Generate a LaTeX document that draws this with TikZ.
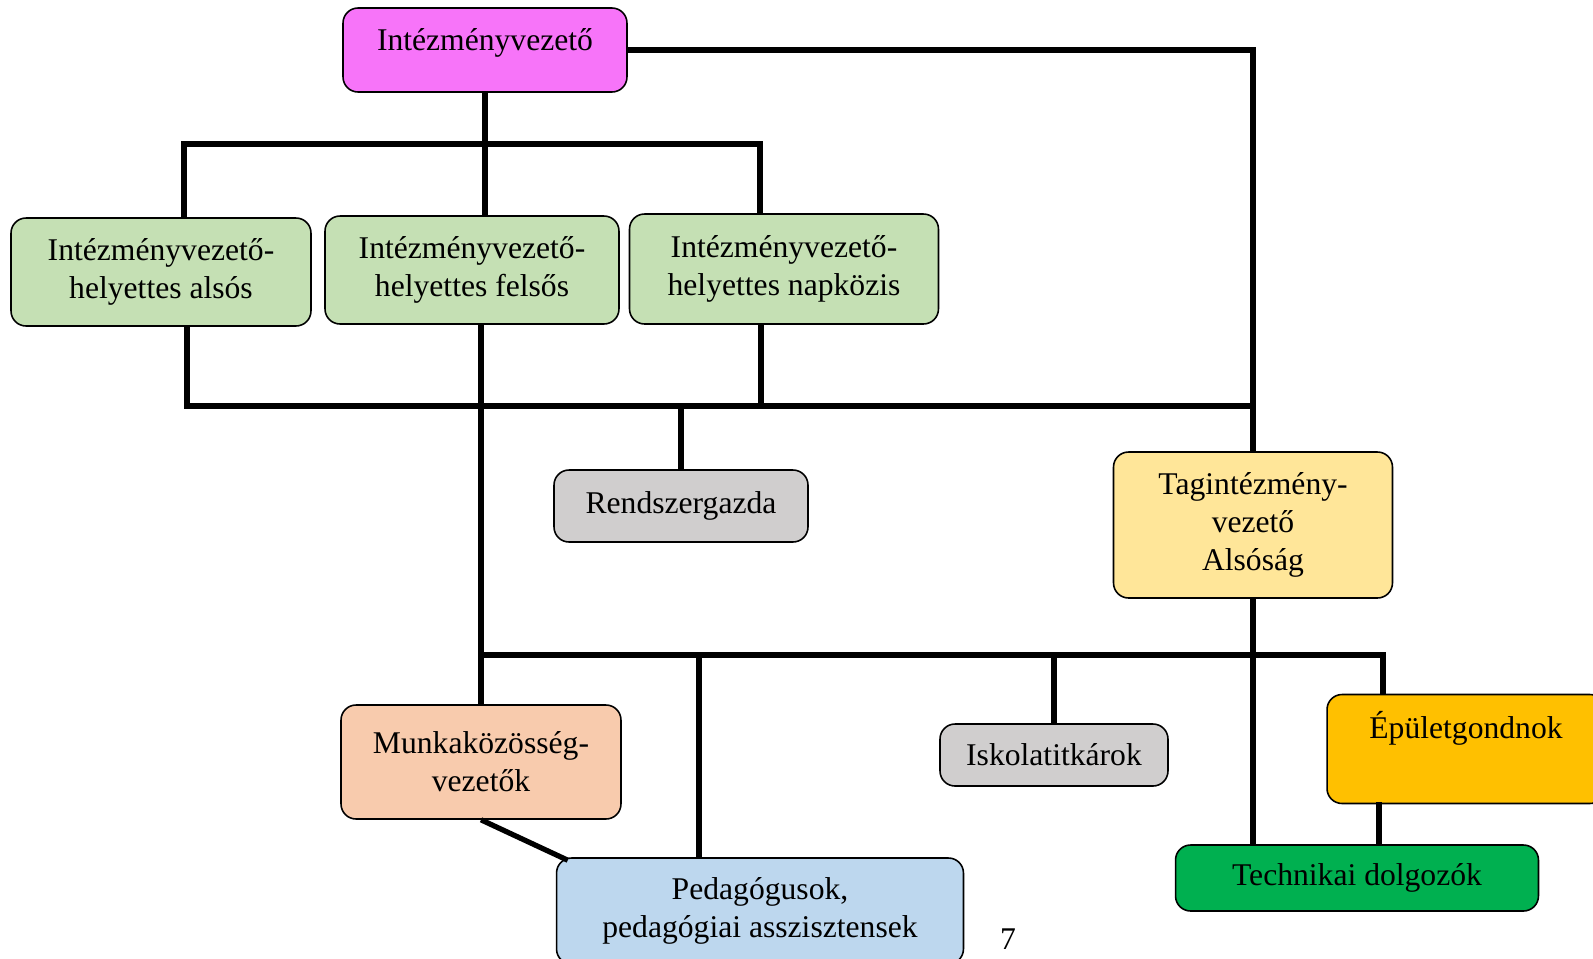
\documentclass[tikz,border=0pt]{standalone}
\usepackage{fontspec}
\setmainfont{Liberation Serif}
\usepackage{tikz}
\usetikzlibrary{calc, positioning}
\definecolor{vezcol}{HTML}{F774F9}
\definecolor{helycol}{HTML}{C5E0B4}
\definecolor{szurke}{HTML}{D0CECE}
\definecolor{tagcol}{HTML}{FFE699}
\definecolor{mkcol}{HTML}{F8CBAD}
\definecolor{pedcol}{HTML}{BDD7EE}
\definecolor{epcol}{HTML}{FFC000}
\definecolor{techcol}{HTML}{00B050}
\tikzstyle{box}=[draw, line width=0.9pt, rounded corners=0.3cm, align=center, inner sep=0pt, font=\fontsize{18}{21.5}\selectfont]
\tikzstyle{conn}=[line width=3pt]

\begin{document}
\begin{tikzpicture}[x=0.02cm, y=-0.02cm]
			\useasboundingbox (0,0) rectangle (1593,958);
			\clip (0,0) rectangle (1593,958);

			% Top
			\node[box, fill=vezcol, minimum width=5.68cm, minimum height=1.68cm, text depth=0.42cm] (vez) at (485,50) {Intézményvezető};

			% Deputies
			\node[box, fill=helycol, minimum width=6cm, minimum height=2.16cm] (h-1) at (161,272) {Intézményvezető-\\helyettes alsós};
			\node[box, fill=helycol, minimum width=5.88cm, minimum height=2.16cm] (h-2) at (472,270) {Intézményvezető-\\helyettes felsős};
			\node[box, fill=helycol, minimum width=6.18cm, minimum height=2.2cm] (h-3) at (784,269) {Intézményvezető-\\helyettes napközis};

			% Middle row
			\node[box, fill=szurke, minimum width=5.08cm, minimum height=1.44cm] (rg) at (681,506) {Rendszergazda};
			\node[box, fill=tagcol, minimum width=5.58cm, minimum height=2.92cm] (tag) at (1253,525) {Tagintézmény-\\vezető\\Alsóság};

			% Bottom rows
			\node[box, fill=mkcol, minimum width=5.6cm, minimum height=2.28cm] (mk) at (481,762) {Munkaközösség-\\vezetők};
			\node[box, fill=szurke, minimum width=4.56cm, minimum height=1.24cm] (isk) at (1054,755) {Iskolatitkárok};
			\node[box, fill=epcol, minimum width=5.56cm, minimum height=2.18cm, text depth=0.98cm] (ep) at (1466,749) {Épületgondnok};
			\node[box, fill=pedcol, minimum width=8.14cm, minimum height=2.12cm] (ped) at (760,911) {Pedagógusok,\\pedagógiai asszisztensek};
			\node[box, fill=techcol, minimum width=7.26cm, minimum height=1.32cm] (tech) at (1357,878) {Technikai dolgozók};

			% Page number
			\node[font=\fontsize{18}{21}\selectfont] (pg) at (1008,939) {7};

			% Bus ends and drops
			\coordinate (t-l) at (184,144);
			\coordinate (t-r) at (760,144);
			\coordinate (m-l) at (187,406);
			\coordinate (m-3) at (761,406);
			\coordinate (u-l) at (481,655);
			\coordinate (u-p) at (699,655);
			\coordinate (u-r) at (1383,655);
			\coordinate (d-ep) at (1379,802);

			% Top bus
			\draw[conn] (vez.south) -- (vez.south |- h-2.north);
			\draw[conn] (t-l |- h-1.north) -- (t-l) -- (t-r) -- (t-r |- h-3.north);
			\draw[conn] (vez.east) -- (vez.east -| tag.north) -- (tag.north);

			% Middle bus
			\draw[conn] (m-l |- h-1.south) -- (m-l) -- (m-l -| tag.north);
			\draw[conn] (m-3 |- h-3.south) -- (m-3);
			\draw[conn] (mk.north |- h-2.south) -- (mk.north);
			\draw[conn] (rg.north) -- (rg.north |- m-l);

			% Lower bus
			\draw[conn] (u-l) -- (u-r) -- (u-r |- ep.north);
			\draw[conn] (u-p) -- (u-p |- ped.north);
			\draw[conn] (isk.north) -- (isk.north |- u-l);
			\draw[conn] (tag.south) -- (tag.south |- tech.north);
			\draw[conn] (d-ep) -- (d-ep |- tech.north);
			\draw[conn] (mk.south) -- ($(ped.north west)+(12,3)$);
		\end{tikzpicture}
\end{document}
